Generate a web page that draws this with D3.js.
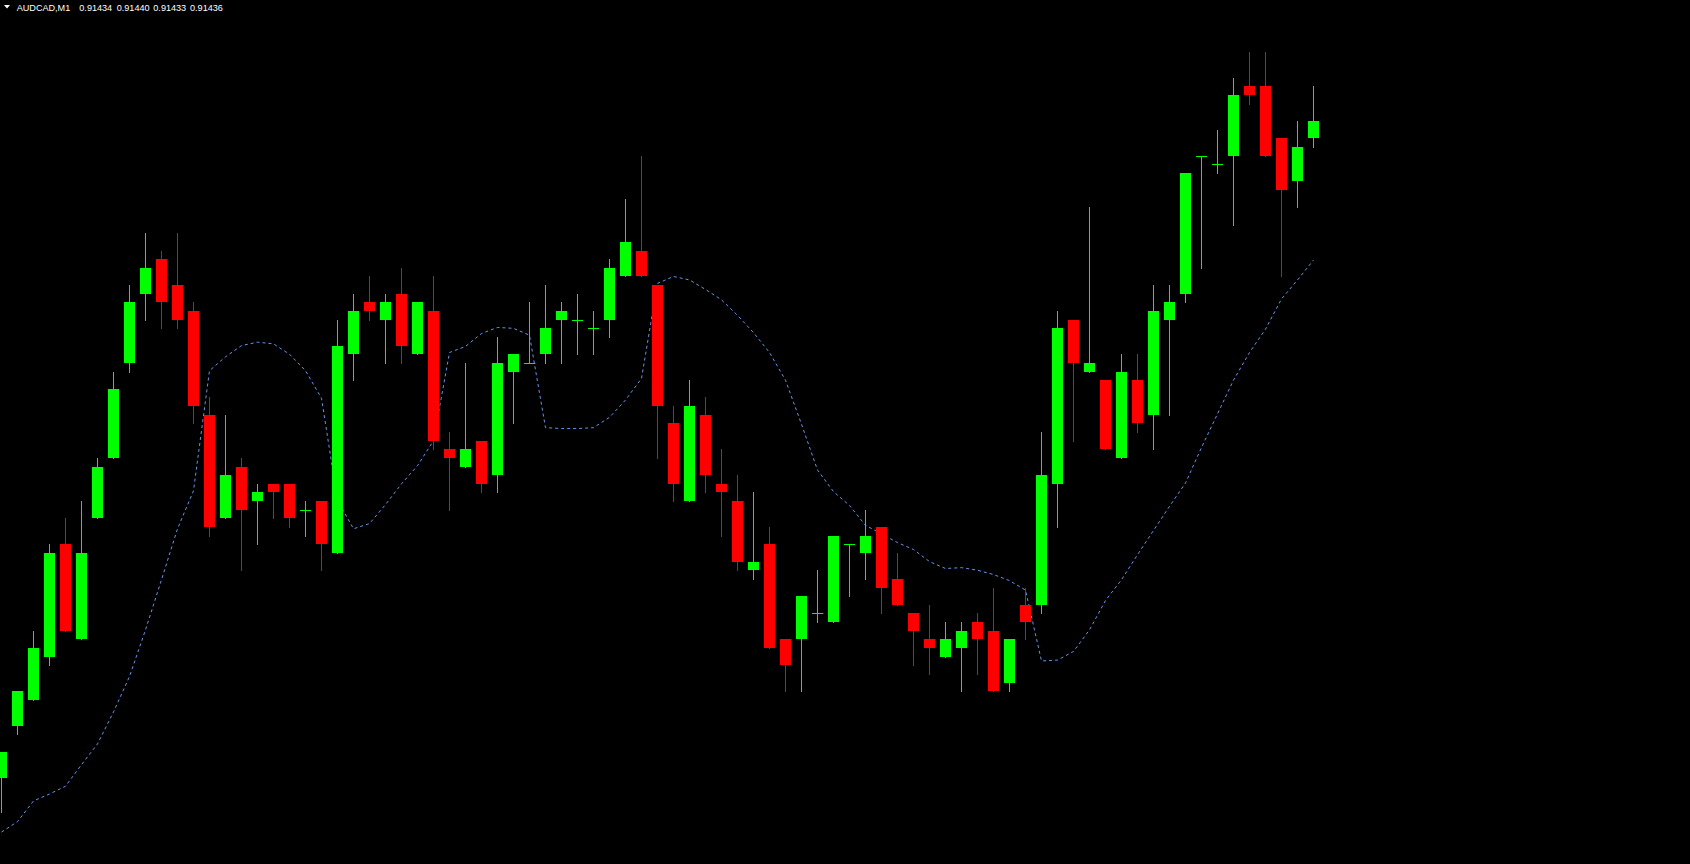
<!DOCTYPE html>
<html>
<head>
<meta charset="utf-8">
<script src="https://cdn.jsdelivr.net/npm/d3@7"></script>
<style>
  html, body { margin: 0; padding: 0; background: #000; overflow: hidden; }
  svg { display: block; }
</style>
</head>
<body>
<svg id="chart" width="1690" height="864"></svg>
<script>
// ---- data (AUDCAD, M1) ----
const symbol = "AUDCAD,M1";

const open = [
  0.91360, 0.91366, 0.91369, 0.91374, 0.91387, 0.91376, 0.91390, 0.91397, 0.91408, 0.91416,
  0.91420, 0.91417, 0.91414, 0.91402, 0.91390, 0.91396, 0.91392, 0.91394, 0.91394, 0.91391,
  0.91392, 0.91386, 0.91409, 0.91415, 0.91413, 0.91416, 0.91409, 0.91414, 0.91398, 0.91396,
  0.91399, 0.91395, 0.91407, 0.91408, 0.91409, 0.91413, 0.91413, 0.91412, 0.91413, 0.91418,
  0.91421, 0.91417, 0.91401, 0.91392, 0.91402, 0.91394, 0.91392, 0.91384, 0.91387, 0.91376,
  0.91376, 0.91379, 0.91378, 0.91387, 0.91386, 0.91389, 0.91383, 0.91379, 0.91376, 0.91374,
  0.91375, 0.91378, 0.91377, 0.91371, 0.91380, 0.91380, 0.91394, 0.91413, 0.91407, 0.91406,
  0.91397, 0.91406, 0.91402, 0.91413, 0.91416, 0.91432, 0.91431, 0.91432, 0.91440, 0.91440,
  0.91434, 0.91429, 0.91434
];
const high = [
  0.91363, 0.91370, 0.91377, 0.91387, 0.91390, 0.91392, 0.91397, 0.91407, 0.91417, 0.91423,
  0.91421, 0.91423, 0.91415, 0.91404, 0.91402, 0.91397, 0.91394, 0.91394, 0.91394, 0.91392,
  0.91392, 0.91413, 0.91416, 0.91418, 0.91416, 0.91419, 0.91415, 0.91418, 0.91400, 0.91408,
  0.91399, 0.91411, 0.91409, 0.91415, 0.91417, 0.91415, 0.91416, 0.91414, 0.91420, 0.91427,
  0.91432, 0.91417, 0.91403, 0.91406, 0.91404, 0.91398, 0.91395, 0.91393, 0.91389, 0.91376,
  0.91381, 0.91384, 0.91388, 0.91387, 0.91391, 0.91389, 0.91386, 0.91379, 0.91380, 0.91378,
  0.91378, 0.91379, 0.91382, 0.91376, 0.91382, 0.91400, 0.91414, 0.91413, 0.91426, 0.91406,
  0.91409, 0.91409, 0.91417, 0.91417, 0.91430, 0.91432, 0.91435, 0.91441, 0.91444, 0.91444,
  0.91434, 0.91436, 0.91440
];
const low = [
  0.91356, 0.91365, 0.91369, 0.91373, 0.91377, 0.91376, 0.91390, 0.91397, 0.91407, 0.91413,
  0.91412, 0.91412, 0.91401, 0.91388, 0.91390, 0.91384, 0.91387, 0.91390, 0.91389, 0.91388,
  0.91384, 0.91386, 0.91406, 0.91413, 0.91408, 0.91408, 0.91409, 0.91398, 0.91391, 0.91396,
  0.91393, 0.91393, 0.91401, 0.91408, 0.91408, 0.91408, 0.91409, 0.91409, 0.91411, 0.91418,
  0.91418, 0.91397, 0.91392, 0.91392, 0.91393, 0.91388, 0.91384, 0.91383, 0.91375, 0.91370,
  0.91370, 0.91378, 0.91378, 0.91381, 0.91383, 0.91379, 0.91380, 0.91373, 0.91372, 0.91374,
  0.91370, 0.91372, 0.91370, 0.91370, 0.91376, 0.91379, 0.91389, 0.91399, 0.91407, 0.91398,
  0.91397, 0.91400, 0.91398, 0.91402, 0.91415, 0.91419, 0.91430, 0.91424, 0.91438, 0.91432,
  0.91418, 0.91426, 0.91433
];
const close = [
  0.91363, 0.91370, 0.91375, 0.91386, 0.91377, 0.91386, 0.91396, 0.91405, 0.91415, 0.91419,
  0.91415, 0.91413, 0.91403, 0.91389, 0.91395, 0.91391, 0.91393, 0.91393, 0.91390, 0.91391,
  0.91387, 0.91410, 0.91414, 0.91414, 0.91415, 0.91410, 0.91415, 0.91399, 0.91397, 0.91398,
  0.91394, 0.91408, 0.91409, 0.91408, 0.91412, 0.91414, 0.91413, 0.91412, 0.91419, 0.91422,
  0.91418, 0.91403, 0.91394, 0.91403, 0.91395, 0.91393, 0.91385, 0.91385, 0.91375, 0.91373,
  0.91381, 0.91379, 0.91388, 0.91387, 0.91388, 0.91382, 0.91380, 0.91377, 0.91375, 0.91376,
  0.91377, 0.91376, 0.91370, 0.91376, 0.91378, 0.91395, 0.91412, 0.91408, 0.91408, 0.91398,
  0.91407, 0.91401, 0.91414, 0.91415, 0.91430, 0.91432, 0.91431, 0.91439, 0.91439, 0.91432,
  0.91428, 0.91433, 0.91436
];
// dotted indicator line (one value per bar)
const indicator = [
  0.913537, 0.913549, 0.913573, 0.913581, 0.913590, 0.913615, 0.913639, 0.913676, 0.913717, 0.913771,
  0.913829, 0.913888, 0.913932, 0.914071, 0.914087, 0.914100, 0.914104, 0.914102, 0.914090, 0.914071,
  0.914039, 0.913921, 0.913888, 0.913894, 0.913916, 0.913940, 0.913961, 0.913990, 0.914092, 0.914099,
  0.914114, 0.914121, 0.914120, 0.914112, 0.914005, 0.914004, 0.914004, 0.914005, 0.914017, 0.914037,
  0.914062, 0.914172, 0.914180, 0.914176, 0.914165, 0.914153, 0.914135, 0.914115, 0.914092, 0.914060,
  0.914009, 0.913956, 0.913931, 0.913915, 0.913892, 0.913882, 0.913872, 0.913864, 0.913850, 0.913842,
  0.913843, 0.913840, 0.913835, 0.913828, 0.913817, 0.913735, 0.913736, 0.913746, 0.913771, 0.913805,
  0.913829, 0.913858, 0.913886, 0.913914, 0.913941, 0.913982, 0.914021, 0.914060, 0.914092, 0.914119,
  0.914154, 0.914176, 0.914199
];
const priceDomain = [0.91350, 0.91450];

// ---- drawing ----
const W = 1690, H = 864;
const n = open.length;
const bars = d3.range(n).map(i => ({ i, o: open[i], h: high[i], l: low[i], c: close[i] }));

const svg = d3.select("#chart");
svg.append("rect").attr("width", W).attr("height", H).attr("fill", "#000");

const x = d3.scaleLinear().domain([0, n - 1]).range([1.5, 1.5 + 16 * (n - 1)]);
const y = d3.scaleLinear().domain(priceDomain).range([H, 0]);

const UP = "#00ff00", DOWN = "#ff0000";
const bodyW = 11;

// indicator line
const line = d3.line().x((d, i) => x(i)).y(d => y(d));
svg.append("path")
  .datum(indicator)
  .attr("d", line)
  .attr("fill", "none")
  .attr("stroke", "#6495ed")
  .attr("stroke-width", 1)
  .attr("stroke-dasharray", "3,3");

const g = svg.append("g").attr("shape-rendering", "crispEdges");
const candle = g.selectAll("g.c").data(bars).join("g").attr("class", "c");

candle.append("line")
  .attr("x1", d => x(d.i)).attr("x2", d => x(d.i))
  .attr("y1", d => Math.round(y(d.h)))
  .attr("y2", d => Math.round(y(d.l)) + 1)
  .attr("stroke", d => d.c >= d.o ? UP : DOWN)
  .attr("stroke-width", 1);

candle.append("rect")
  .attr("x", d => x(d.i) - bodyW / 2)
  .attr("width", bodyW)
  .attr("y", d => Math.round(y(Math.max(d.o, d.c))))
  .attr("height", d => Math.max(1, Math.round(y(Math.min(d.o, d.c))) - Math.round(y(Math.max(d.o, d.c)))))
  .attr("fill", d => d.c >= d.o ? UP : DOWN);

// header
const last = bars[n - 1];
const fmt = d3.format(".5f");
const quote = [last.o, last.h, last.l, last.c].map(fmt);
const hdr = svg.append("g").attr("font-family", "'Liberation Sans', Arial, sans-serif")
  .attr("font-size", "9.1px").attr("fill", "#ffffff");
hdr.append("path").attr("d", "M4,5 L10,5 L7,8.5 Z").attr("fill", "#ffffff");
hdr.append("text").attr("x", 16.7).attr("y", 11).text(symbol);
const qx = [79.3, 116.7, 153.3, 190];
hdr.selectAll("text.q").data(quote).join("text").attr("class", "q")
  .attr("x", (d, i) => qx[i]).attr("y", 11).text(d => d);
</script>
</body>
</html>
